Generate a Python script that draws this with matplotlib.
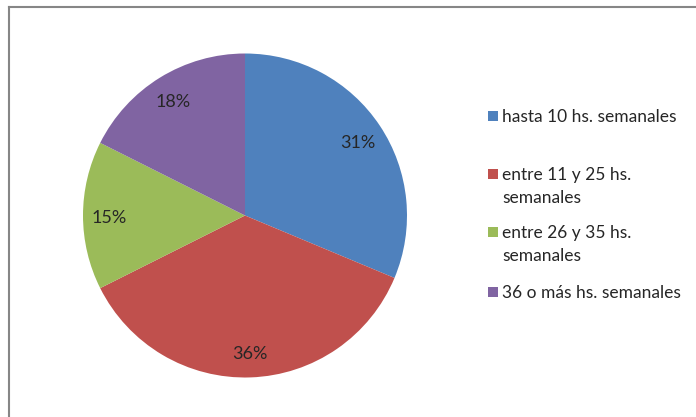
import matplotlib
matplotlib.use("Agg")
import matplotlib.pyplot as plt
from matplotlib.lines import Line2D
from matplotlib.patches import Rectangle
from matplotlib.transforms import offset_copy

categories = ["hasta 10 hs. semanales", "entre 11 y 25 hs.\nsemanales",
              "entre 26 y 35 hs.\nsemanales", "36 o más hs. semanales"]
values = [31.3, 36.3, 14.8, 17.6]
colors = ["#4F81BD", "#C0504D", "#9BBB59", "#8064A2"]

plt.rcParams['font.family'] = ['Lato', 'DejaVu Sans']
W, H = 696, 417
fig = plt.figure(figsize=(W / 100, H / 100), dpi=100)

cx, cy, r = 245, 215.5, 162
ax = fig.add_axes([(cx - r) / W, (H - cy - r) / H, 2 * r / W, 2 * r / H])
wedges, texts, autotexts = ax.pie(values, colors=colors, startangle=90, counterclock=False,
                                  autopct=lambda p: f"{p:.0f}%", pctdistance=0.84,
                                  textprops=dict(fontsize=13, color="#262626"),
                                  wedgeprops=dict(linewidth=0))
for t in autotexts:
    t.set_transform(offset_copy(t.get_transform(), fig=fig, x=0, y=-2.5, units='dots'))
ax.set_xlim(-1, 1)
ax.set_ylim(-1, 1)
ax.set_aspect('equal')
ax.axis('off')

# Border (left and top)
fig.add_artist(Line2D([8.5 / W, 8.5 / W], [0, 1 - 6.5 / H], transform=fig.transFigure,
                      color="#868686", linewidth=1.5))
fig.add_artist(Line2D([8.5 / W, 1], [1 - 6.5 / H, 1 - 6.5 / H], transform=fig.transFigure,
                      color="#868686", linewidth=1.5))

# Legend
ys = [115.5, 174, 232, 292]
for lab, col, y in zip(categories, colors, ys):
    fig.add_artist(Rectangle((488 / W, 1 - (y + 5) / H), 10 / W, 10 / H,
                             transform=fig.transFigure, facecolor=col, edgecolor='none'))
    fig.text(502 / W, 1 - (y - 7) / H, lab, ha='left', va='top', fontsize=12.5,
             color="#262626", linespacing=1.52)

fig.savefig("out.png", dpi=100)
